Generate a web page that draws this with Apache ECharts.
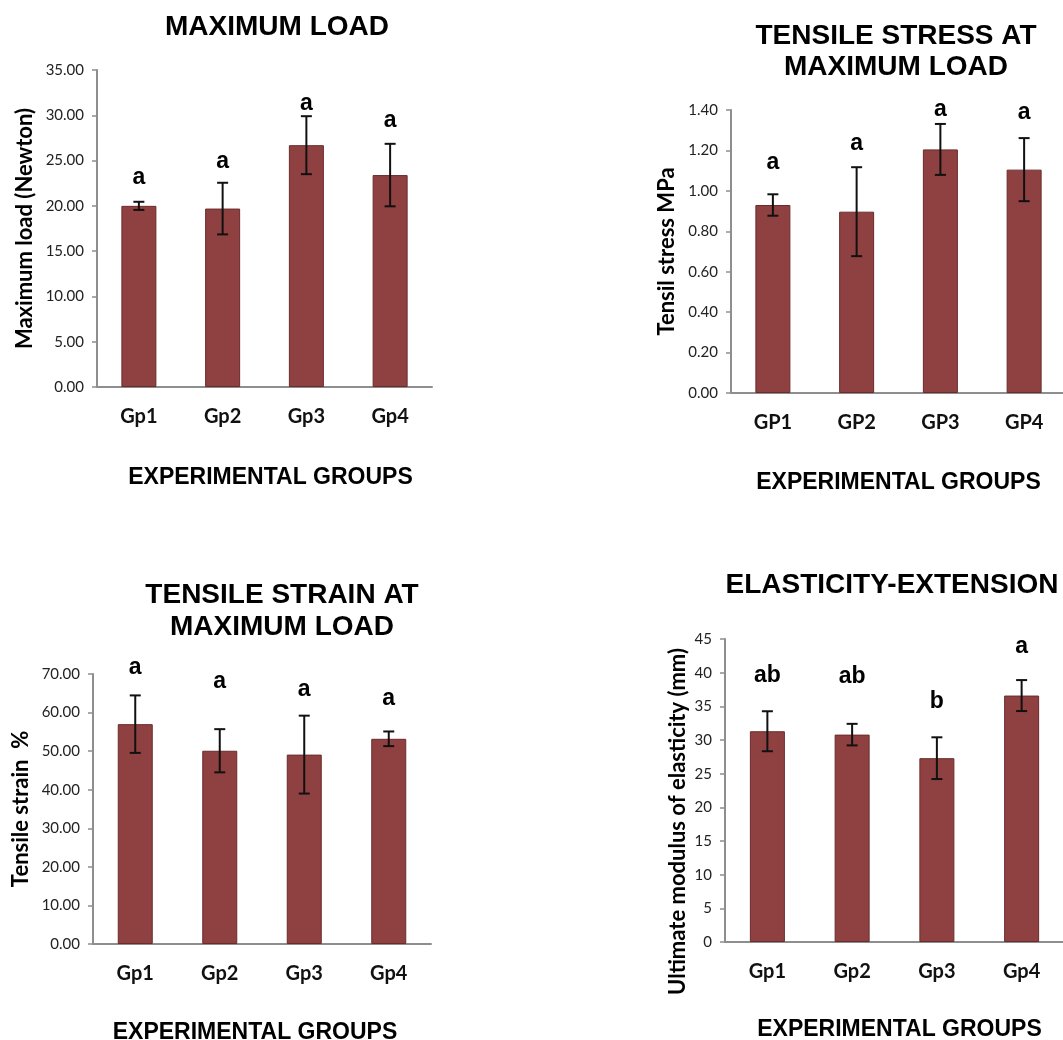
<!DOCTYPE html>
<html>
<head>
<meta charset="utf-8">
<title>Tensile properties by experimental group</title>
<script src="https://cdn.jsdelivr.net/npm/echarts@6/dist/echarts.min.js"></script>
<style>
  html, body { margin: 0; padding: 0; background: #fff; }
  #chart { width: 1063px; height: 1040px; }
</style>
</head>
<body>
<div id="chart"></div>
<script>
// ---- data -------------------------------------------------------------
const groupsGp = ['Gp1', 'Gp2', 'Gp3', 'Gp4'];
const groupsGP = ['GP1', 'GP2', 'GP3', 'GP4'];

// Maximum load (Newton): mean and standard deviation
const loadMean = [20.0, 19.7, 26.7, 23.4];
const loadSD = [0.45, 2.85, 3.2, 3.45];
const loadLetters = ['a', 'a', 'a', 'a'];
const loadLetterLevel = [23.1, 24.9, 31.3, 29.4];
const loadTicks = { max: 35, step: 5, decimals: 2 };

// Tensile stress at maximum load (MPa)
const stressMean = [0.93, 0.897, 1.205, 1.105];
const stressSD = [0.053, 0.22, 0.126, 0.156];
const stressLetters = ['a', 'a', 'a', 'a'];
const stressLetterLevel = [1.138, 1.232, 1.40, 1.385];
const stressTicks = { max: 1.4, step: 0.2, decimals: 2 };

// Tensile strain at maximum load (%)
const strainMean = [57.0, 50.1, 49.1, 53.2];
const strainSD = [7.45, 5.6, 10.1, 1.9];
const strainLetters = ['a', 'a', 'a', 'a'];
const strainLetterLevel = [71.6, 68.0, 65.9, 63.6];
const strainTicks = { max: 70, step: 10, decimals: 2 };

// Ultimate modulus of elasticity (mm)
const elastMean = [31.3, 30.8, 27.3, 36.6];
const elastSD = [2.97, 1.6, 3.1, 2.3];
const elastLetters = ['ab', 'ab', 'b', 'a'];
const elastLetterLevel = [39.5, 39.4, 35.7, 43.9];
const elastTicks = { max: 45, step: 5, decimals: 0 };

// ---- styling ----------------------------------------------------------
const BAR_FILL = '#8F4141';
const BAR_EDGE = '#6A2B2B';
const AXIS_GREY = '#8E8E8E';
const LABEL_FONT = 'Lato, "Open Sans", sans-serif';
const TITLE_FONT = '"Liberation Sans", Arial, sans-serif';

function errorBarItem(params, api) {
  const idx = api.value(0);
  const lo = api.coord([idx, api.value(1)]);
  const hi = api.coord([idx, api.value(2)]);
  const cap = 5.5;
  const style = { stroke: '#111', lineWidth: 2 };
  return {
    type: 'group',
    children: [
      { type: 'line', shape: { x1: hi[0], y1: hi[1], x2: lo[0], y2: lo[1] }, style },
      { type: 'line', shape: { x1: hi[0] - cap, y1: hi[1], x2: hi[0] + cap, y2: hi[1] }, style },
      { type: 'line', shape: { x1: lo[0] - cap, y1: lo[1], x2: lo[0] + cap, y2: lo[1] }, style }
    ]
  };
}

const titles = [];
const grids = [];
const xAxes = [];
const yAxes = [];
const series = [];

function addPanel(p) {
  const i = grids.length;
  titles.push({
    text: p.title,
    left: p.titleX,
    top: p.titleTop,
    textAlign: 'center',
    padding: 0,
    textStyle: {
      fontFamily: TITLE_FONT, fontWeight: 'bold', fontSize: 28,
      lineHeight: p.titleLineHeight, color: '#000'
    }
  });
  grids.push({
    left: p.grid[0], top: p.grid[1], width: p.grid[2], height: p.grid[3],
    outerBoundsMode: 'none', containLabel: false
  });
  xAxes.push({
    type: 'category',
    gridIndex: i,
    data: p.categories,
    axisLine: { lineStyle: { color: AXIS_GREY, width: 2 } },
    axisTick: { show: false },
    axisLabel: {
      margin: 20, color: '#111',
      fontFamily: LABEL_FONT, fontWeight: 'bold', fontSize: 20
    },
    name: 'EXPERIMENTAL GROUPS',
    nameLocation: 'middle',
    nameGap: p.xNameGap,
    nameTextStyle: {
      fontFamily: TITLE_FONT, fontWeight: 'bold', fontSize: 23, color: '#000',
      verticalAlign: 'top',
      padding: p.xNamePadding || 0
    }
  });
  yAxes.push({
    type: 'value',
    gridIndex: i,
    min: 0,
    max: p.ticks.max,
    interval: p.ticks.step,
    splitLine: { show: false },
    axisLine: { show: true, lineStyle: { color: AXIS_GREY, width: 2 } },
    axisTick: { show: true, inside: false, length: 5, lineStyle: { color: AXIS_GREY, width: 1.5 } },
    axisLabel: {
      margin: 13, color: '#222',
      fontFamily: LABEL_FONT, fontSize: 15,
      formatter: v => v.toFixed(p.ticks.decimals)
    },
    name: p.yName,
    nameLocation: 'middle',
    nameRotate: 90,
    nameGap: p.yNameGap,
    nameTextStyle: {
      fontFamily: LABEL_FONT, fontWeight: 'bold', fontSize: 22, color: '#000',
      padding: p.yNamePadding || 0
    }
  });
  series.push({
    type: 'bar',
    xAxisIndex: i, yAxisIndex: i,
    data: p.mean,
    barWidth: 35,
    itemStyle: { color: BAR_FILL, borderColor: BAR_EDGE, borderWidth: 1 },
    silent: true,
    z: 2
  });
  series.push({
    type: 'custom',
    xAxisIndex: i, yAxisIndex: i,
    renderItem: errorBarItem,
    data: p.mean.map((m, k) => [k, m - p.sd[k], m + p.sd[k]]),
    silent: true,
    z: 3
  });
  // significance letters above each group
  series.push({
    type: 'scatter',
    xAxisIndex: i, yAxisIndex: i,
    data: p.letterLevel.map((v, k) => [k, v]),
    symbolSize: 1,
    itemStyle: { color: 'rgba(0,0,0,0)', opacity: 1 },
    clip: false,
    silent: true,
    label: {
      show: true,
      position: 'inside',
      formatter: q => p.letters[q.dataIndex],
      fontFamily: TITLE_FONT, fontWeight: 'bold', fontSize: 23, color: '#000',
      textBorderWidth: 0
    },
    z: 4
  });
}

addPanel({
  title: 'MAXIMUM LOAD', titleX: 277, titleTop: 11, titleLineHeight: 32,
  grid: [97, 70, 335, 317],
  categories: groupsGp, mean: loadMean, sd: loadSD,
  letters: loadLetters, letterLevel: loadLetterLevel, ticks: loadTicks,
  yName: 'Maximum load (Newton)', yNameGap: 61, xNameGap: 79,
  xNamePadding: [0, 0, 0, 12]
});
addPanel({
  title: 'TENSILE STRESS AT\nMAXIMUM LOAD', titleX: 896, titleTop: 21, titleLineHeight: 31,
  grid: [731, 110, 335, 283],
  categories: groupsGP, mean: stressMean, sd: stressSD,
  letters: stressLetters, letterLevel: stressLetterLevel, ticks: stressTicks,
  yName: 'Tensil stress MPa', yNameGap: 53, xNameGap: 78
});
addPanel({
  title: 'TENSILE STRAIN AT\nMAXIMUM LOAD', titleX: 282, titleTop: 579, titleLineHeight: 32,
  grid: [93, 674, 338, 270],
  categories: groupsGp, mean: strainMean, sd: strainSD,
  letters: strainLetters, letterLevel: strainLetterLevel, ticks: strainTicks,
  yName: 'Tensile strain  %', yNameGap: 61, xNameGap: 77,
  xNamePadding: [0, 14, 0, 0]
});
addPanel({
  title: 'ELASTICITY-EXTENSION', titleX: 892, titleTop: 569, titleLineHeight: 32,
  grid: [725, 639, 339, 303],
  categories: groupsGp, mean: elastMean, sd: elastSD,
  letters: elastLetters, letterLevel: elastLetterLevel, ticks: elastTicks,
  yName: 'Ultimate modulus of elasticity (mm)', yNameGap: 36, xNameGap: 76,
  yNamePadding: [0, 62, 0, 0], xNamePadding: [0, 0, 0, 10]
});

const chart = echarts.init(document.getElementById('chart'), null, { renderer: 'canvas' });
chart.setOption({
  backgroundColor: '#fff',
  animation: false,
  title: titles,
  grid: grids,
  xAxis: xAxes,
  yAxis: yAxes,
  series: series
});
</script>
</body>
</html>
